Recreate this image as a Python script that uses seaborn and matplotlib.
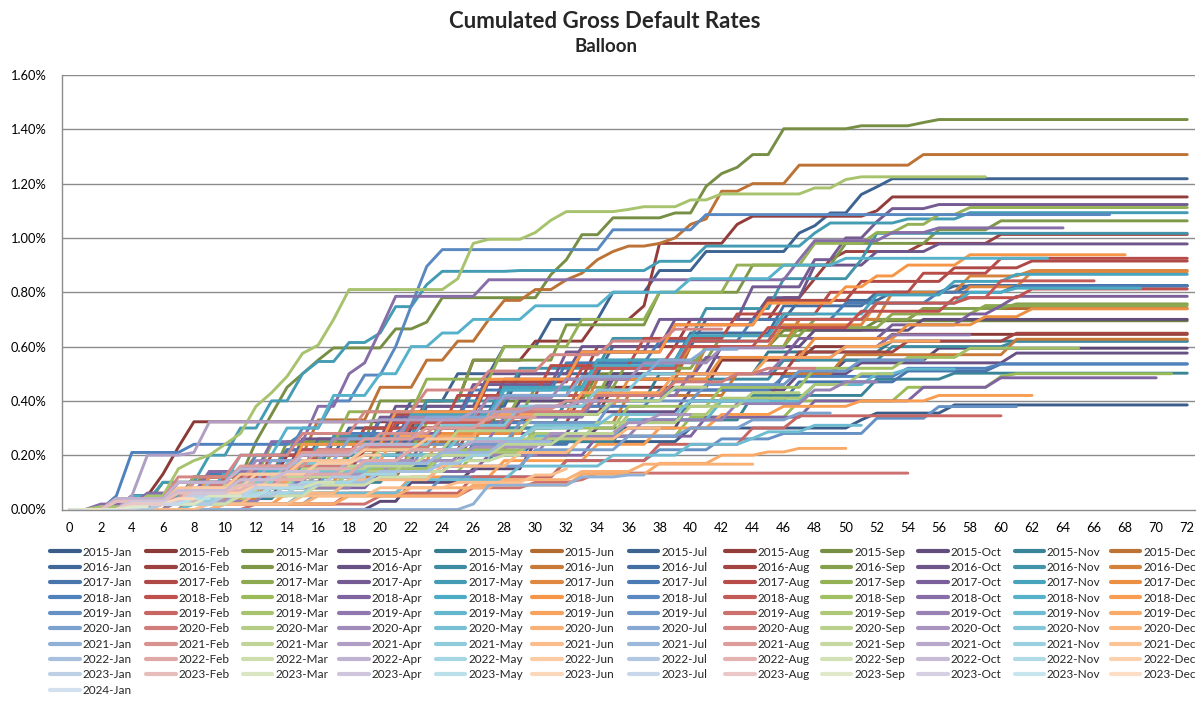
import numpy as np
import pandas as pd
import matplotlib
matplotlib.use("Agg")
import matplotlib.pyplot as plt
import seaborn as sns
from matplotlib.lines import Line2D
from matplotlib.colors import to_rgb
from matplotlib.ticker import FixedLocator, FuncFormatter

# ---------------- data ----------------
MONTHS = ["Jan", "Feb", "Mar", "Apr", "May", "Jun",
          "Jul", "Aug", "Sep", "Oct", "Nov", "Dec"]
YEARS = [2015, 2016, 2017, 2018, 2019, 2020, 2021, 2022, 2023, 2024]
LAST_OBS_YEAR, LAST_OBS_MONTH = 2024, 2   # data observed up to 2024-Feb
MAX_AGE = 72
Y_TICKS = [0.0, 0.2, 0.4, 0.6, 0.8, 1.0, 1.2, 1.4, 1.6]

# cumulated default rate (%) from the given months on (month, value)
cp_2015 = {
    "Jan": [(6, .05), (14, .12), (22, .20), (30, .25), (40, .30), (51, .33), (52, .355), (57, .385)],
    "Feb": [(5, .05), (6, .13), (7, .23), (8, .323), (30, .35), (35, .45), (42, .55), (48, .60), (53, .645)],
    "Mar": [(4, .04), (10, .10), (16, .20), (22, .30), (28, .40), (34, .50), (40, .60), (46, .66), (52, .695)],
    "Apr": [(20, .03), (22, .10), (26, .15), (30, .25), (34, .30), (40, .40), (46, .50), (50, .55), (56, .594)],
    "May": [(5, .05), (12, .12), (18, .20), (25, .30), (32, .40), (38, .50), (45, .58), (53, .62)],
    "Jun": [(7, .06), (13, .15), (20, .25), (26, .35), (33, .48), (40, .60), (47, .70), (55, .74)],
    "Jul": [(3, .03), (10, .10), (14, .20), (18, .30), (22, .40), (25, .50), (28, .60), (31, .70), (35, .80),
            (38, .88), (41, .95), (47, 1.018), (48, 1.045), (49, 1.092), (51, 1.16), (52, 1.188), (53, 1.218)],
    "Aug": [(4, .05), (9, .10), (14, .20), (19, .30), (23, .40), (26, .55), (30, .62), (34, .70), (37, .75),
            (38, .98), (43, 1.05), (44, 1.08), (52, 1.10), (53, 1.151)],
    "Sep": [(3, .02), (6, .10), (9, .12), (12, .25), (13, .35), (14, .45), (15, .50), (16, .55), (17, .595),
            (21, .665), (23, .69), (24, .78), (31, .865), (32, .92), (33, 1.012), (35, 1.074), (39, 1.092),
            (41, 1.19), (42, 1.237), (43, 1.26), (44, 1.307), (46, 1.402), (51, 1.413), (55, 1.425), (56, 1.436)],
    "Oct": [(4, .03), (9, .10), (15, .18), (22, .30), (29, .40), (35, .50), (42, .60), (48, .66), (55, .70)],
    "Nov": [(6, .04), (14, .10), (21, .18), (28, .25), (36, .33), (44, .42), (52, .48), (57, .502)],
    "Dec": [(4, .03), (8, .12), (12, .20), (16, .33), (20, .45), (23, .55), (25, .62), (27, .70), (28, .77),
            (30, .81), (32, .846), (33, .87), (34, .92), (35, .95), (36, .97), (38, .98), (39, 1.0), (40, 1.05),
            (41, 1.07), (42, 1.172), (44, 1.20), (47, 1.268), (55, 1.307)],
}
cp_2016 = {
    "Jan": [(5, .05), (11, .15), (17, .25), (23, .38), (29, .50), (35, .60), (41, .70), (47, .77), (53, .80), (57, .823)],
    "Feb": [(4, .04), (10, .12), (16, .22), (22, .35), (28, .48), (34, .60), (40, .70), (46, .78), (48, .85),
            (49, .92), (50, .95), (55, .98), (60, 1.013)],
    "Mar": [(3, .03), (8, .12), (14, .25), (20, .40), (26, .55), (32, .68), (38, .80), (44, .90), (50, .98),
            (56, 1.03), (60, 1.063)],
    "Apr": [(6, .04), (12, .10), (19, .18), (26, .28), (33, .36), (40, .44), (47, .50), (51, .54), (61, .576)],
    "May": [(5, .04), (11, .10), (18, .20), (25, .30), (32, .40), (39, .48), (46, .55), (53, .60), (61, .62)],
    "Jun": [(8, .05), (15, .12), (22, .22), (29, .32), (36, .42), (43, .50), (50, .57), (61, .627)],
    "Jul": [(4, .05), (10, .14), (16, .26), (22, .36), (28, .45), (34, .55), (40, .65), (46, .75), (52, .80), (58, .825)],
    "Aug": [(5, .06), (12, .14), (19, .22), (26, .32), (33, .42), (40, .50), (47, .58), (54, .62), (61, .649)],
    "Sep": [(6, .05), (12, .12), (18, .22), (24, .34), (30, .45), (36, .55), (42, .64), (48, .70), (55, .74), (61, .757)],
    "Oct": [(4, .05), (9, .14), (15, .26), (21, .38), (27, .50), (33, .60), (39, .70), (45, .78), (48, .90),
            (52, .95), (56, .978)],
    "Nov": [(5, .05), (11, .15), (17, .27), (23, .40), (29, .52), (35, .63), (41, .74), (46, .85), (51, .92), (52, 1.017)],
    "Dec": [(6, .04), (13, .12), (20, .24), (27, .36), (34, .48), (41, .60), (47, .70), (53, .80), (58, .86), (62, .88)],
}
cp_2017 = {
    "Jan": [(5, .03), (12, .09), (19, .16), (26, .24), (33, .32), (40, .40), (47, .47), (54, .51), (60, .536)],
    "Feb": [(4, .05), (9, .12), (15, .22), (21, .35), (27, .47), (33, .58), (39, .68), (45, .77), (51, .84),
            (57, .89), (62, .915)],
    "Mar": [(5, .04), (11, .12), (17, .22), (23, .32), (29, .42), (35, .52), (41, .60), (47, .67), (53, .72), (59, .751)],
    "Apr": [(3, .04), (8, .12), (14, .22), (20, .34), (26, .46), (32, .58), (38, .70), (44, .82), (48, .92),
            (50, 1.0), (52, 1.06), (53, 1.108), (56, 1.123)],
    "May": [(3, .03), (6, .10), (9, .20), (11, .30), (13, .40), (15, .50), (16, .545), (18, .615), (20, .65),
            (21, .747), (23, .828), (24, .877), (29, .88), (38, .914), (41, .97), (48, 1.018), (49, 1.055),
            (54, 1.07), (58, 1.093)],
    "Jun": [(5, .04), (10, .12), (16, .22), (22, .32), (28, .42), (34, .52), (40, .60), (46, .68), (52, .76),
            (58, .82), (62, .876)],
    "Jul": [(4, .05), (9, .13), (14, .22), (20, .33), (26, .44), (32, .54), (38, .62), (44, .70), (50, .76),
            (56, .80), (61, .823)],
    "Aug": [(4, .04), (8, .10), (13, .20), (19, .30), (25, .42), (31, .53), (37, .63), (43, .72), (49, .80),
            (55, .87), (60, .925)],
    "Sep": [(3, .03), (8, .12), (13, .24), (18, .36), (23, .48), (28, .60), (33, .70), (38, .80), (43, .90),
            (48, .98), (52, 1.02), (54, 1.05), (56, 1.086), (58, 1.112)],
    "Oct": [(5, .04), (11, .10), (17, .18), (23, .28), (29, .38), (35, .48), (41, .56), (47, .63), (53, .68),
            (58, .72), (60, .75), (61, .785)],
    "Nov": [(5, .05), (10, .13), (16, .24), (22, .35), (28, .45), (34, .55), (40, .64), (46, .72), (52, .79),
            (57, .84), (61, .866)],
    "Dec": [(6, .04), (12, .10), (18, .18), (24, .28), (30, .38), (36, .48), (42, .56), (48, .63), (54, .68),
            (59, .71), (62, .739)],
}
cp_2018 = {
    "Jan": [(3, .05), (4, .21), (8, .24), (15, .28), (22, .32), (30, .38), (38, .44), (46, .49), (54, .52), (60, .536)],
    "Feb": [(4, .04), (9, .12), (15, .22), (21, .32), (27, .42), (33, .52), (39, .60), (45, .67), (51, .73),
            (57, .78), (62, .812)],
    "Mar": [(5, .03), (12, .08), (19, .14), (26, .20), (33, .27), (40, .34), (47, .40), (54, .45), (60, .49), (61, .50)],
    "Apr": [(6, .03), (13, .08), (20, .14), (27, .20), (34, .27), (41, .34), (48, .40), (55, .45), (60, .485)],
    "May": [(4, .05), (10, .14), (16, .24), (22, .34), (28, .44), (34, .53), (40, .62), (46, .70), (52, .76),
            (58, .80), (61, .815)],
    "Jun": [(4, .04), (9, .12), (15, .24), (21, .36), (27, .48), (33, .58), (39, .68), (45, .76), (50, .82),
            (52, .86), (54, .90), (58, .938)],
    "Jul": [(3, .03), (8, .10), (12, .20), (15, .30), (17, .40), (19, .495), (21, .60), (22, .75), (23, .895),
            (24, .957), (35, 1.03), (41, 1.086)],
    "Aug": [(5, .04), (10, .12), (16, .22), (22, .32), (28, .42), (34, .52), (40, .62), (46, .70), (52, .76),
            (58, .78), (60, .842)],
    "Sep": [(6, .03), (12, .08), (18, .15), (24, .22), (30, .30), (36, .38), (42, .45), (48, .52), (54, .56), (58, .594)],
    "Oct": [(2, .02), (5, .06), (9, .14), (13, .25), (16, .38), (18, .50), (19, .54), (20, .66), (21, .785),
            (27, .846), (47, .92), (48, .99), (53, 1.02), (56, 1.037)],
    "Nov": [(3, .03), (7, .10), (11, .20), (14, .30), (17, .42), (20, .50), (22, .60), (24, .65), (26, .70),
            (30, .75), (35, .80), (40, .85), (46, .90), (50, .925)],
    "Dec": [(6, .02), (14, .06), (22, .12), (28, .18), (34, .24), (38, .30), (42, .35), (46, .38), (51, .40), (56, .42)],
}
cp_2019 = {
    "Jan": [(8, .02), (16, .06), (24, .12), (32, .18), (38, .22), (42, .26), (46, .28), (52, .336), (56, .379)],
    "Feb": [(10, .02), (18, .06), (26, .12), (32, .18), (38, .24), (44, .30), (47, .345)],
    "Mar": [(2, .01), (5, .05), (7, .15), (8, .18), (9, .20), (10, .24), (11, .28), (12, .38), (13, .43),
            (14, .49), (15, .575), (16, .605), (17, .70), (18, .81), (25, .85), (26, .98), (27, .995),
            (30, 1.02), (31, 1.065), (32, 1.097), (36, 1.105), (37, 1.115), (40, 1.14), (42, 1.162),
            (48, 1.184), (50, 1.215), (51, 1.225)],
    "Apr": [(5, .04), (10, .10), (16, .18), (22, .26), (28, .34), (34, .42), (40, .50), (46, .56), (50, .60), (53, .643)],
    "May": [(6, .03), (12, .08), (18, .14), (24, .20), (30, .27), (36, .33), (42, .40), (48, .46), (52, .50), (54, .517)],
    "Jun": [(4, .04), (9, .10), (15, .18), (21, .27), (27, .35), (33, .43), (39, .50), (45, .56), (50, .60), (53, .62)],
    "Jul": [(5, .03), (11, .09), (17, .16), (23, .24), (29, .32), (35, .40), (41, .46), (47, .51), (51, .55)],
    "Aug": [(12, .02), (20, .05), (26, .08), (30, .10), (33, .11), (34, .134)],
    "Sep": [(6, .03), (12, .08), (18, .14), (24, .21), (30, .28), (36, .35), (42, .41), (48, .46), (51, .50)],
    "Oct": [(7, .03), (13, .08), (19, .14), (25, .20), (31, .27), (37, .33), (43, .39), (48, .44), (50, .47)],
    "Nov": [(8, .02), (15, .06), (22, .11), (29, .16), (35, .20), (40, .24), (44, .262), (45, .286), (48, .31)],
    "Dec": [(10, .02), (18, .05), (26, .09), (33, .13), (38, .17), (42, .20), (45, .212), (47, .225)],
}
cp_2020 = {
    "Jan": [(6, .02), (12, .06), (18, .11), (24, .16), (30, .22), (36, .27), (40, .30), (44, .33), (47, .355)],
    "Feb": [(4, .03), (9, .09), (14, .16), (19, .23), (24, .30), (29, .36), (34, .42), (39, .47), (43, .50), (45, .52)],
    "Mar": [(5, .03), (10, .08), (16, .14), (22, .20), (28, .26), (34, .32), (40, .38), (44, .43)],
    "Apr": [(3, .03), (7, .10), (12, .18), (17, .26), (22, .34), (27, .41), (32, .48), (37, .54), (42, .595)],
    "May": [(5, .03), (10, .08), (15, .14), (20, .20), (25, .26), (30, .31), (35, .35), (40, .40)],
    "Jun": [(10, .02), (16, .05), (22, .08), (28, .11), (33, .14), (37, .167)],
    "Jul": [(4, .04), (8, .10), (13, .18), (18, .26), (23, .34), (28, .42), (33, .49), (38, .55), (41, .59)],
    "Aug": [(3, .04), (7, .12), (11, .20), (15, .28), (19, .36), (23, .44), (27, .51), (31, .57), (35, .62), (39, .664)],
    "Sep": [(5, .03), (10, .09), (15, .15), (20, .22), (25, .29), (30, .35), (35, .40), (39, .45)],
    "Oct": [(6, .03), (11, .08), (16, .13), (21, .18), (26, .23), (31, .28), (36, .32), (38, .35)],
    "Nov": [(4, .04), (9, .10), (14, .17), (19, .24), (24, .31), (29, .38), (34, .44), (37, .50)],
    "Dec": [(6, .02), (12, .06), (18, .11), (24, .16), (29, .21), (33, .26), (36, .30)],
}
cp_2021 = {
    "Jan": [(26, .02), (27, .09), (33, .12), (36, .127)],
    "Feb": [(4, .04), (8, .10), (12, .16), (16, .22), (20, .28), (24, .33), (28, .37), (32, .40)],
    "Mar": [(3, .03), (8, .07), (13, .12), (18, .16), (23, .20), (28, .24), (32, .28)],
    "Apr": [(4, .05), (5, .20), (8, .21), (9, .323), (20, .33), (26, .36), (30, .38), (33, .40)],
    "May": [(5, .03), (10, .08), (14, .13), (18, .18), (22, .22), (26, .26), (30, .30)],
    "Jun": [(9, .02), (15, .05), (20, .08), (25, .10), (30, .127), (32, .15)],
    "Jul": [(4, .03), (9, .08), (14, .13), (19, .17), (24, .21), (28, .25)],
    "Aug": [(3, .04), (7, .10), (11, .16), (15, .21), (19, .26), (23, .30), (27, .34)],
    "Sep": [(5, .02), (10, .06), (15, .10), (20, .14), (25, .18), (28, .20)],
    "Oct": [(4, .03), (8, .08), (13, .13), (18, .18), (22, .22), (26, .25)],
    "Nov": [(6, .02), (11, .06), (16, .10), (20, .14), (24, .17), (26, .20)],
    "Dec": [(3, .03), (7, .08), (11, .13), (15, .18), (19, .22), (23, .26)],
}
cp_2022 = {
    "Jan": [(5, .02), (10, .06), (15, .10), (20, .14), (24, .17)],
    "Feb": [(4, .03), (9, .08), (14, .13), (19, .18), (22, .22)],
    "Mar": [(6, .02), (11, .05), (16, .09), (20, .12)],
    "Apr": [(3, .04), (7, .10), (11, .15), (15, .20), (19, .24)],
    "May": [(5, .02), (10, .06), (15, .10), (19, .13)],
    "Jun": [(4, .03), (8, .08), (12, .13), (16, .17), (19, .20)],
    "Jul": [(6, .02), (10, .05), (14, .09), (17, .12)],
    "Aug": [(4, .03), (8, .07), (12, .11), (16, .15)],
    "Sep": [(5, .02), (9, .05), (13, .08), (16, .10)],
    "Oct": [(3, .03), (7, .07), (11, .11), (14, .14)],
    "Nov": [(5, .02), (9, .05), (13, .08)],
    "Dec": [(4, .03), (8, .06), (12, .09)],
}
cp_2023 = {
    "Jan": [(4, .02), (8, .05), (12, .08)],
    "Feb": [(3, .03), (7, .06), (11, .09)],
    "Mar": [(5, .02), (9, .05)],
    "Apr": [(4, .03), (8, .06)],
    "May": [(5, .02), (8, .04)],
    "Jun": [(4, .02), (7, .04)],
    "Jul": [(5, .02)],
    "Aug": [(4, .02)],
    "Sep": [(4, .01)],
    "Oct": [],
    "Nov": [],
    "Dec": [],
}
cp_2024 = {"Jan": []}

CHANGE_POINTS = {2015: cp_2015, 2016: cp_2016, 2017: cp_2017, 2018: cp_2018, 2019: cp_2019,
                 2020: cp_2020, 2021: cp_2021, 2022: cp_2022, 2023: cp_2023, 2024: cp_2024}

# ---------------- build long table ----------------
rows = []
names = []
for y in YEARS:
    for mi, mname in enumerate(MONTHS):
        if mname not in CHANGE_POINTS[y]:
            continue
        name = f"{y}-{mname}"
        names.append(name)
        last = min(MAX_AGE, (LAST_OBS_YEAR - y) * 12 + (LAST_OBS_MONTH - 1) - mi)
        pts = CHANGE_POINTS[y][mname]
        for m in range(last + 1):
            val = 0.0
            for (cm, cv) in pts:
                if cm <= m:
                    val = cv
            rows.append((name, m, val))
df = pd.DataFrame(rows, columns=["vintage", "month", "rate"])

# ---------------- colours (Excel 2010 style, shaded per group of 6) ----------------
ACCENTS = ["#4F81BD", "#C0504D", "#9BBB59", "#8064A2", "#4BACC6", "#F79646"]


def series_color(i):
    base = np.array(to_rgb(ACCENTS[i % 6]))
    level = i // 6
    if level <= 6:
        f = 0.28 * (6 - level) / 6
        return tuple(base * (1 - f))
    t = 0.75 * (level - 6) / 12
    return tuple(base + (1 - base) * t)


palette = {n: series_color(i) for i, n in enumerate(names)}

# ---------------- plot ----------------
sns.set_theme(style="white")
plt.rcParams["font.family"] = ["Lato", "DejaVu Sans"]

W, H = 1203, 702
fig = plt.figure(figsize=(W / 100, H / 100), dpi=100)
ax = fig.add_axes([62 / W, 1 - 509.5 / H, (1195 - 62) / W, (509.5 - 75) / H])

GRID = "#8c8c8c"
for yv in Y_TICKS[1:]:
    ax.axhline(yv, color=GRID, lw=1.0, zorder=0)

sns.lineplot(data=df, x="month", y="rate", hue="vintage", hue_order=names,
             palette=palette, linewidth=2.1, estimator=None, sort=False,
             legend=False, ax=ax)

ax.set_xlim(-0.5, 72.5)
ax.set_ylim(0, 1.6)
ax.set_xlabel("")
ax.set_ylabel("")

ax.xaxis.set_major_locator(FixedLocator(list(range(0, 73, 2))))
ax.xaxis.set_minor_locator(FixedLocator([m - 0.5 for m in range(0, 74)]))
ax.yaxis.set_major_locator(FixedLocator(Y_TICKS))
ax.yaxis.set_major_formatter(FuncFormatter(lambda v, p: f"{v:.2f}%"))
ax.tick_params(axis="x", which="major", length=0, pad=9, labelsize=9.3, colors="black")
ax.tick_params(axis="x", which="minor", length=5, width=1, color=GRID, direction="out")
ax.tick_params(axis="y", which="major", length=5, width=1, color=GRID, direction="out",
               pad=6, labelsize=9.3, labelcolor="black")

for s in ["top", "right"]:
    ax.spines[s].set_visible(False)
for s in ["left", "bottom"]:
    ax.spines[s].set_color(GRID)
    ax.spines[s].set_linewidth(1.0)

fig.text(605 / W, 1 - 28.5 / H, "Cumulated Gross Default Rates", ha="center", va="baseline",
         fontsize=16, fontweight="bold")
fig.text(606 / W, 1 - 52.5 / H, "Balloon", ha="center", va="baseline",
         fontsize=13.5, fontweight="bold")

# ---------------- legend: 12 columns (months), rows = years ----------------
col_step = 96.45
for j, mname in enumerate(MONTHS):
    col_names = [n for n in names if n.endswith("-" + mname)]
    handles = [Line2D([0], [0], color=palette[n], lw=3.0) for n in col_names]
    fig.legend(handles, col_names, loc="upper left",
               bbox_to_anchor=((50 + j * col_step) / W, 1 - 546.5 / H),
               frameon=False, fontsize=8.5, handlelength=2.5, handletextpad=0.25,
               labelspacing=0.37, borderpad=0, borderaxespad=0)

fig.savefig("out.png", dpi=100)
